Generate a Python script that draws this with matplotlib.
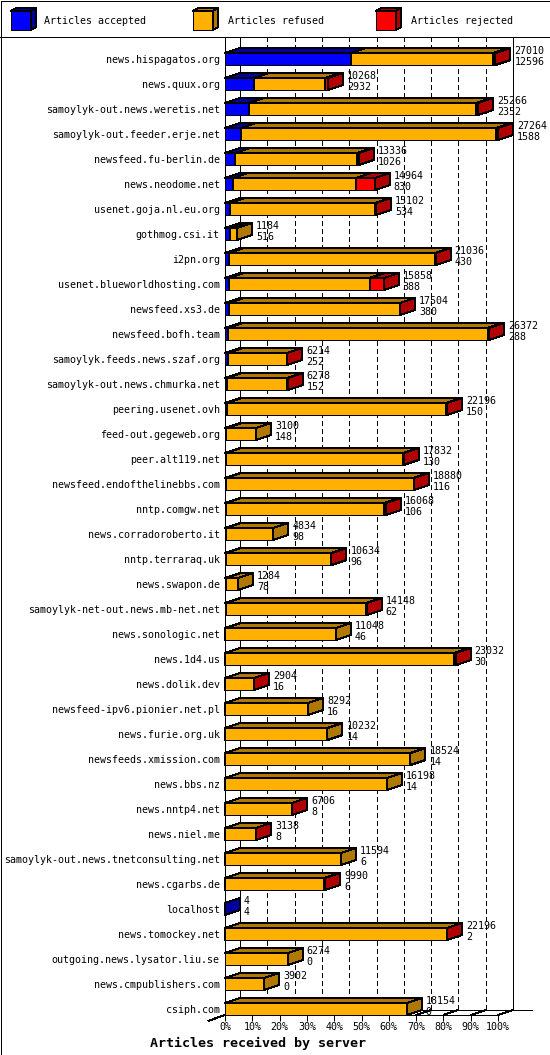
import matplotlib
matplotlib.use("Agg")
import matplotlib.pyplot as plt
from matplotlib.patches import Polygon, Rectangle

plt.rcParams['font.family'] = ['DejaVu Sans Mono']

# ---------------- data ----------------
servers = [
    "news.hispagatos.org", "news.quux.org", "samoylyk-out.news.weretis.net",
    "samoylyk-out.feeder.erje.net", "newsfeed.fu-berlin.de", "news.neodome.net",
    "usenet.goja.nl.eu.org", "gothmog.csi.it", "i2pn.org",
    "usenet.blueworldhosting.com", "newsfeed.xs3.de", "newsfeed.bofh.team",
    "samoylyk.feeds.news.szaf.org", "samoylyk-out.news.chmurka.net",
    "peering.usenet.ovh", "feed-out.gegeweb.org", "peer.alt119.net",
    "newsfeed.endofthelinebbs.com", "nntp.comgw.net", "news.corradoroberto.it",
    "nntp.terraraq.uk", "news.swapon.de", "samoylyk-net-out.news.mb-net.net",
    "news.sonologic.net", "news.1d4.us", "news.dolik.dev",
    "newsfeed-ipv6.pionier.net.pl", "news.furie.org.uk", "newsfeeds.xmission.com",
    "news.bbs.nz", "news.nntp4.net", "news.niel.me",
    "samoylyk-out.news.tnetconsulting.net", "news.cgarbs.de", "localhost",
    "news.tomockey.net", "outgoing.news.lysator.liu.se", "news.cmpublishers.com",
    "csiph.com",
]
total = [27010, 10268, 25266, 27264, 13336, 14964, 15102, 1184, 21036, 15858,
         17504, 26372, 6214, 6278, 22196, 3100, 17832, 18880, 16068, 4834,
         10634, 1284, 14148, 11048, 23032, 2904, 8292, 10232, 18524, 16198,
         6706, 3138, 11594, 9990, 4, 22196, 6274, 3902, 18154]
accepted = [12596, 2932, 2352, 1588, 1026, 830, 534, 516, 430, 388,
            380, 288, 252, 152, 150, 148, 130, 116, 106, 98,
            96, 78, 62, 46, 30, 16, 16, 14, 14, 14,
            8, 8, 6, 6, 4, 2, 0, 0, 0]
rejected = [200, 250, 200, 150, 150, 1900, 80, 0, 60, 1420,
            60, 150, 50, 60, 100, 0, 50, 50, 150, 0,
            50, 0, 50, 0, 200, 40, 0, 0, 0, 0,
            40, 40, 0, 60, 0, 40, 0, 0, 0]
refused = [t - a - r for t, a, r in zip(total, accepted, rejected)]

legend_labels = ["Articles accepted", "Articles refused", "Articles rejected"]
xticks = [0, 10, 20, 30, 40, 50, 60, 70, 80, 90, 100]
xtick_labels = [f"{v}%" for v in xticks]
xlabel = "Articles received by server"

# ---------------- style ----------------
face = ["#0000ff", "#ffb000", "#ff0000"]
dark = ["#0000a0", "#b07800", "#b00000"]
LW = 0.72
FS = 7.2

W, H = 550, 1055
X0, X1 = 225, 498          # front 0% and 100% in pixels
ROW0, STEP = 59, 25
TOP, FLOOR = 37, 1015
pxx = 100.0 / (X1 - X0)    # data units per pixel in x
pxy = 1.0 / STEP           # data units per pixel in y
DX, DY = 15 * pxx, 5 * pxy # 3d depth
HH = 6 * pxy               # half height of bar front

fig = plt.figure(figsize=(W / 100, H / 100), dpi=100)
fig.patch.set_facecolor("white")

ytop = (TOP - ROW0) / STEP
ybot = (FLOOR - ROW0) / STEP
ax = fig.add_axes([X0 / W, 1 - FLOOR / H, (X1 - X0) / W, (FLOOR - TOP) / H])
ax.set_xlim(0, 100)
ax.set_ylim(ybot, ytop)
ax.patch.set_visible(False)
for s in ax.spines.values():
    s.set_visible(False)

rows = list(range(len(servers)))
ax.set_yticks(rows, labels=servers)
ax.tick_params(axis='y', length=0, pad=3.8, labelsize=FS)
ax.set_xticks(xticks, labels=xtick_labels)
ax.tick_params(axis='x', length=4, width=LW, pad=1.2, labelsize=FS, direction='out')

def line(xs, ys, **kw):
    ax.plot(xs, ys, color="black", lw=LW, clip_on=False, solid_capstyle='butt',
            antialiased=False, zorder=kw.pop('zorder', 1), **kw)

# walls
line([0, 0], [ytop, ybot])
line([DX, DX], [ytop, ybot - DY])
line([100 + DX, 100 + DX], [ytop, ybot - DY])
for p in xticks[1:-1]:
    line([p + DX, p + DX], [ytop, ybot - DY], linestyle=(0, (5, 3)))
# floor
line([0, 100], [ybot, ybot])
line([DX, (532 - X0) * pxx], [ybot - DY, ybot - DY])
for p in xticks:
    line([p, p + DX], [ybot, ybot - DY])
line([-17 * pxx, 0], [ybot + 6 * pxy, ybot])

maxt = max(total)

def box(x0, x1, r, fc, dc):
    kw = dict(edgecolor="black", lw=LW, antialiased=False, zorder=3, clip_on=False)
    ax.add_patch(Polygon([(x0, r - HH), (x1, r - HH), (x1, r + HH), (x0, r + HH)],
                         facecolor=fc, **kw))
    ax.add_patch(Polygon([(x0, r - HH), (x1, r - HH), (x1 + DX, r - HH - DY),
                          (x0 + DX, r - HH - DY)], facecolor=dc, **kw))
    ax.add_patch(Polygon([(x1, r - HH), (x1, r + HH), (x1 + DX, r + HH - DY),
                          (x1 + DX, r - HH - DY)], facecolor=dc, **kw))

for r in rows:
    start = 0.0
    for k, v in enumerate([accepted[r], refused[r], rejected[r]]):
        if v <= 0:
            continue
        w = v / maxt * 100
        box(start, start + w, r, face[k], dark[k])
        start += w
    xe = total[r] / maxt * 100 + DX + 4 * pxx
    ax.text(xe, r - 0.21, str(total[r]), fontsize=FS, va='baseline', ha='left',
            clip_on=False, zorder=4)
    ax.text(xe, r + 0.23, str(accepted[r]), fontsize=FS, va='baseline', ha='left',
            clip_on=False, zorder=4)

# ---------------- overlay: frame, legend, title ----------------
ov = fig.add_axes([0, 0, 1, 1])
ov.set_xlim(0, W)
ov.set_ylim(H, 0)
ov.axis('off')
ov.patch.set_visible(False)
ov.add_patch(Rectangle((0.5, 0.5), W - 1, H - 1, fill=False, edgecolor="black",
                       lw=LW, antialiased=False))
ov.plot([0, W], [36.5, 36.5], color="black", lw=LW, antialiased=False)

icon_x = [11, 193, 376]
label_x = [44, 228, 411]
for k in range(3):
    x, y0, y1 = icon_x[k], 11, 30
    d, e = 5, 3
    kw = dict(edgecolor="black", lw=LW, antialiased=False)
    ov.add_patch(Polygon([(x, y0), (x + 20, y0), (x + 20, y1), (x, y1)], facecolor=face[k], **kw))
    ov.add_patch(Polygon([(x, y0), (x + 20, y0), (x + 20 + d, y0 - e), (x + d, y0 - e)],
                         facecolor=dark[k], **kw))
    ov.add_patch(Polygon([(x + 20, y0), (x + 20, y1), (x + 20 + d, y1 - e), (x + 20 + d, y0 - e)],
                         facecolor=dark[k], **kw))
    ov.text(label_x[k], 24.5, legend_labels[k], fontsize=FS, va='baseline', ha='left')

ov.text(258, 1047, xlabel, fontsize=9.6, fontweight='bold', va='baseline', ha='center')

fig.savefig("out.png", dpi=100)
